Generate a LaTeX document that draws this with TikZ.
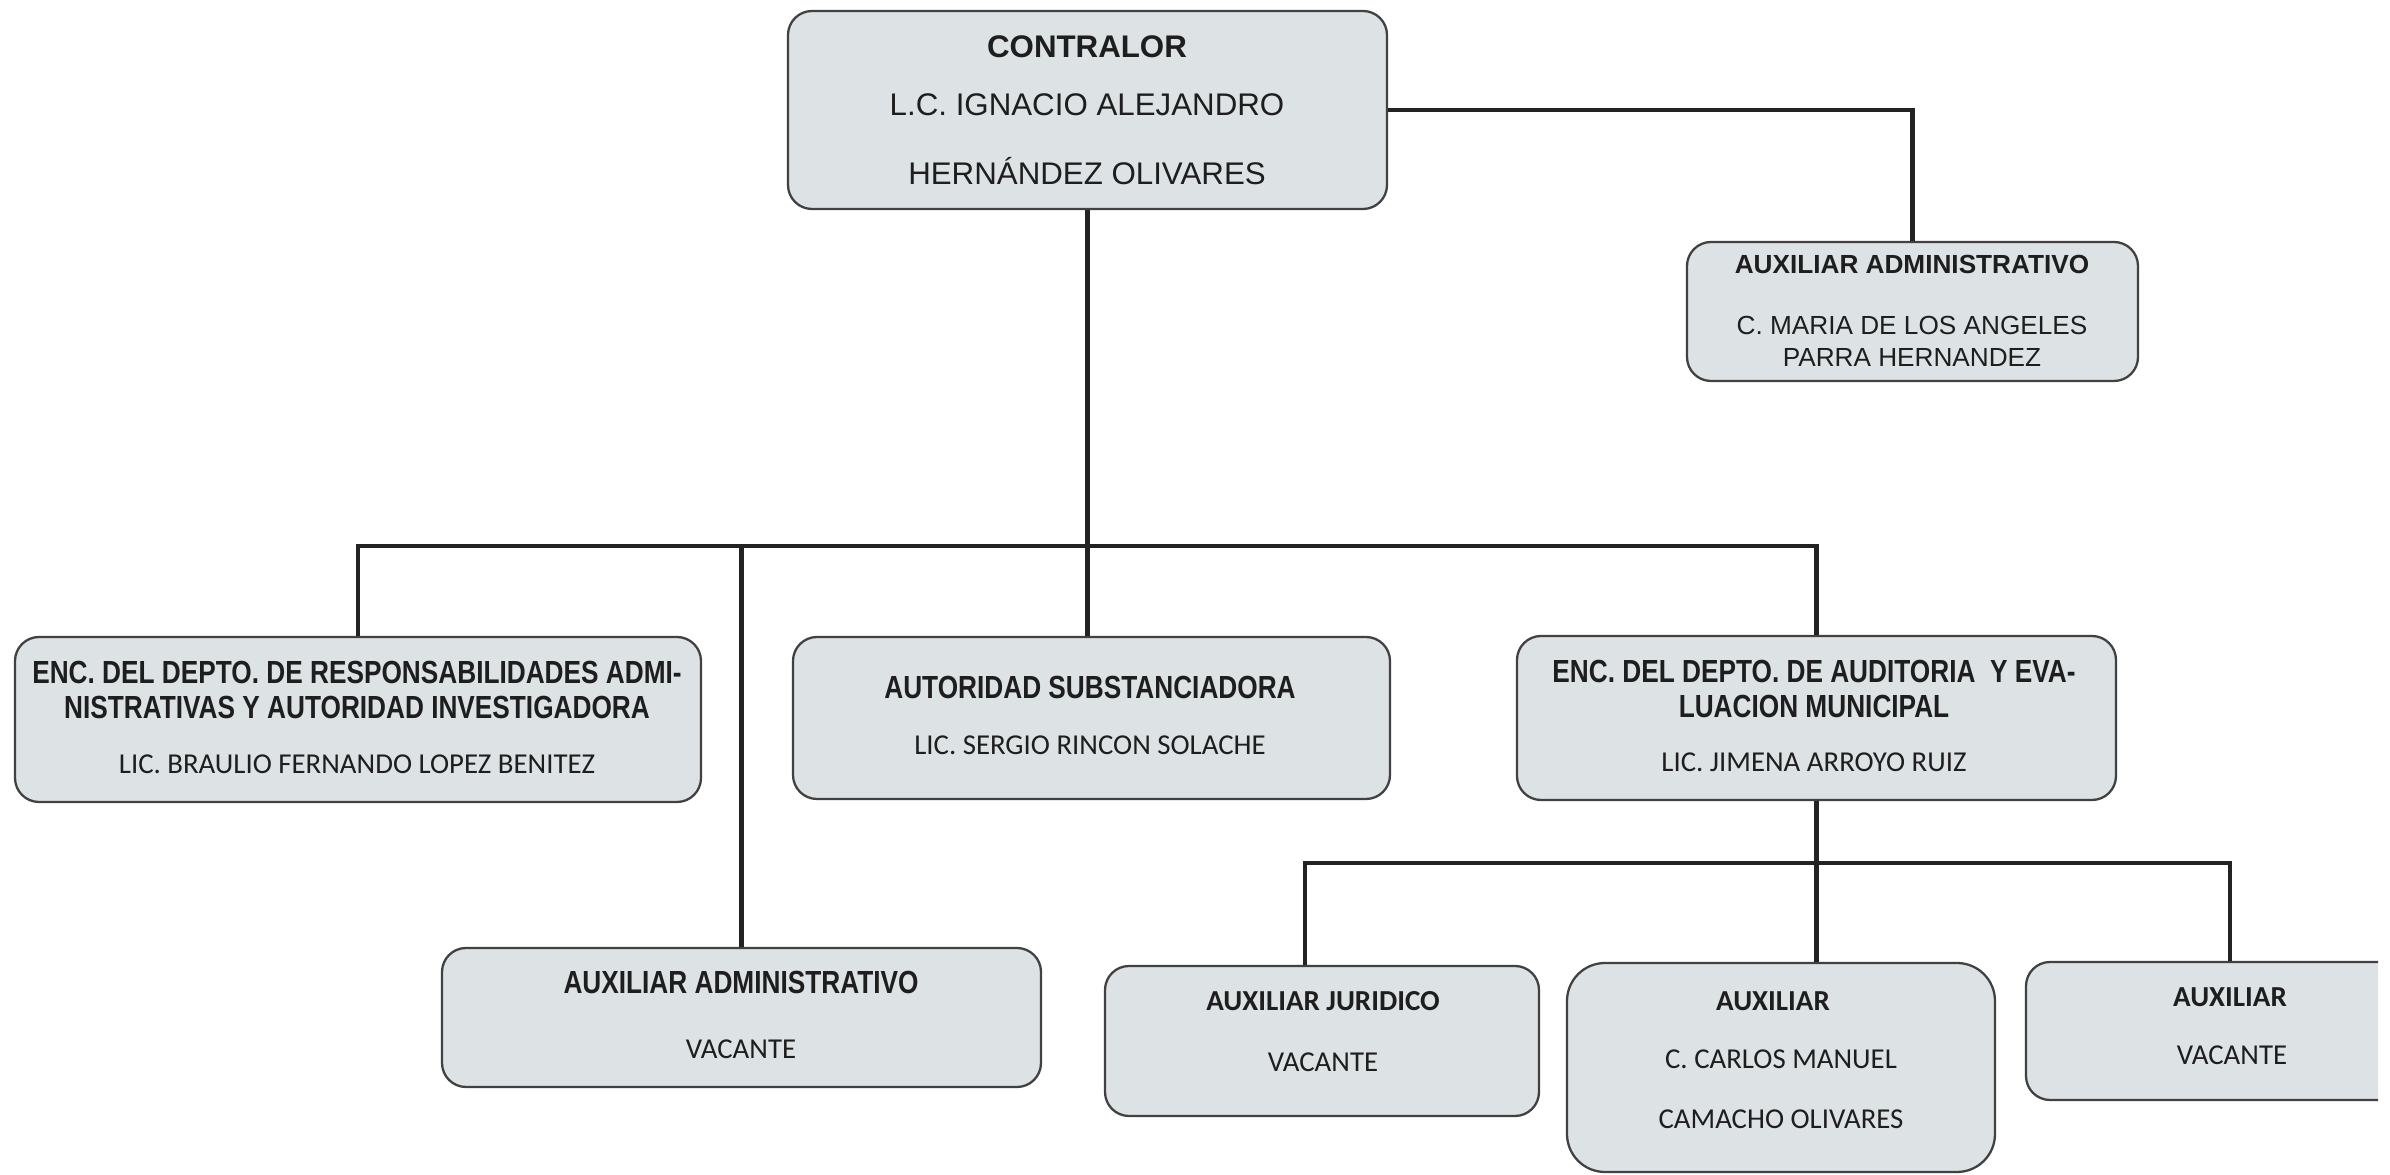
\documentclass[tikz,border=0pt]{standalone}
\usepackage{fontspec}
\newfontfamily\arialf{Liberation Sans}
\newfontfamily\arialnf[FakeStretch=0.82]{Liberation Sans}
\newfontfamily\calf{Carlito}
\definecolor{boxfill}{RGB}{221,226,229}
\definecolor{boxline}{RGB}{65,65,65}
\definecolor{connc}{RGB}{35,35,35}
\definecolor{txtc}{RGB}{30,30,30}
\begin{document}
\begin{tikzpicture}[x=0.1mm,y=-0.1mm,
  box/.style={draw=boxline, fill=boxfill, line width=0.65pt, rounded corners=2.4mm, inner sep=0pt},
  conn/.style={draw=connc, line width=1.3pt},
  txt/.style={inner sep=0pt, text=txtc},
  fA/.style={txt, font=\arialf\fontsize{8.9}{10}\selectfont},
  fAb/.style={txt, font=\arialf\bfseries\fontsize{8.9}{10}\selectfont},
  fS/.style={txt, font=\arialf\fontsize{7.45}{9}\selectfont},
  fSb/.style={txt, font=\arialf\bfseries\fontsize{7.45}{9}\selectfont},
  fN/.style={txt, font=\arialnf\bfseries\fontsize{9.1}{10}\selectfont},
  fC/.style={txt, font=\calf\fontsize{8.2}{10}\selectfont},
  fCb/.style={txt, font=\calf\bfseries\fontsize{8.25}{10}\selectfont}]
\useasboundingbox (0,0) rectangle (2390,1175);

% boxes
\node[box, minimum width=59.9mm, minimum height=19.8mm] (ctr) at (1087.5,110) {};
\node[box, minimum width=45.1mm, minimum height=13.9mm] (aux1) at (1912.5,311.5) {};
\node[box, minimum width=68.6mm, minimum height=16.5mm] (enc1) at (358,719.5) {};
\node[box, minimum width=59.7mm, minimum height=16.2mm] (aut) at (1091.5,718) {};
\node[box, minimum width=59.9mm, minimum height=16.4mm] (aud) at (1816.5,718) {};
\node[box, minimum width=59.9mm, minimum height=13.9mm] (auxv) at (741.5,1017.5) {};
\node[box, minimum width=43.4mm, minimum height=15mm] (jur) at (1322,1041) {};
\node[box, rounded corners=3.8mm, minimum width=42.8mm, minimum height=20.9mm] (car) at (1781,1067.5) {};
\begin{scope}
  \clip (2000,900) rectangle (2378,1175);
  \node[box, minimum width=40.8mm, minimum height=13.8mm] (aux3) at (2230,1031) {};
\end{scope}

% connectors
\coordinate (b1) at (0,546);
\coordinate (b2) at (0,863);
\draw[conn] (ctr.east) -| (aux1.north);
\draw[conn] (ctr.south) -- (ctr.south |- aut.north);
\draw[conn] (enc1.north) -- (enc1.north |- b1) -- (aud.north |- b1) -- (aud.north);
\draw[conn] (auxv.north) -- (auxv.north |- b1);
\draw[conn] (aud.south) -- (aud.south |- car.north);
\coordinate (jd) at ([xshift=-1.7mm]jur.north);
\draw[conn] (jd) -- (jd |- b2) -- (aux3.north |- b2) -- (aux3.north);

% texts
\node[fAb] (t1) at (1087,47) {CONTRALOR};
\node[fA] (t2) at (1087,105) {L.C. IGNACIO ALEJANDRO};
\node[fA] (t3) at (1087,171) {HERNÁNDEZ OLIVARES};

\node[fSb] (t4) at (1912,264) {AUXILIAR ADMINISTRATIVO};
\node[fS] (t5) at (1912,325) {C. MARIA DE LOS ANGELES};
\node[fS] (t6) at (1912,358) {PARRA HERNANDEZ};

\node[fN] (t7) at (357,672) {ENC. DEL DEPTO. DE RESPONSABILIDADES ADMI-};
\node[fN] (t8) at (357,707) {NISTRATIVAS Y AUTORIDAD INVESTIGADORA};
\node[fC] (t9) at (357,764) {LIC. BRAULIO FERNANDO LOPEZ BENITEZ};

\node[fN] (t10) at (1090,687) {AUTORIDAD SUBSTANCIADORA};
\node[fC] (t11) at (1090,745) {LIC. SERGIO RINCON SOLACHE};

\node[fN] (t12) at (1814,671) {ENC. DEL DEPTO. DE AUDITORIA~ Y EVA-};
\node[fN] (t13) at (1814,706) {LUACION MUNICIPAL};
\node[fC] (t14) at (1814,762) {LIC. JIMENA ARROYO RUIZ};

\node[fN] (t15) at (741,982) {AUXILIAR ADMINISTRATIVO};
\node[fC] (t16) at (741,1049) {VACANTE};

\node[fCb] (t17) at (1323,1001) {AUXILIAR JURIDICO};
\node[fC] (t18) at (1323,1062) {VACANTE};

\node[fCb] (t19) at (1773,1001) {AUXILIAR};
\node[fC] (t20) at (1781,1059) {C. CARLOS MANUEL};
\node[fC] (t21) at (1781,1119) {CAMACHO OLIVARES};

\node[fCb] (t22) at (2230,997) {AUXILIAR};
\node[fC] (t23) at (2232,1055) {VACANTE};
\end{tikzpicture}
\end{document}
